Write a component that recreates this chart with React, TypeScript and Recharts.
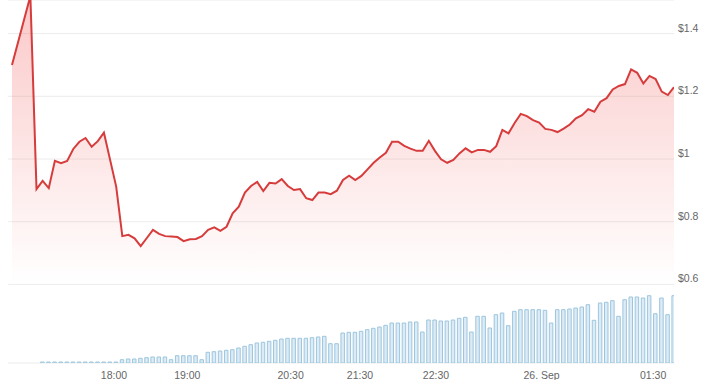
import { Area, Bar, CartesianGrid, ComposedChart, XAxis, YAxis } from 'recharts';

// one entry per 5-minute candle (ordinal axis, equally spaced)
const prices: (number | null)[] = [
  1.3, null, null, 1.52, 0.904, 0.93, 0.907, 0.994, 0.987, 0.994,
  1.032, 1.055, 1.067, 1.039, 1.057, 1.084, 0.998, 0.912, 0.754, 0.758,
  0.747, 0.722, 0.748, 0.774, 0.761, 0.754, 0.753, 0.751, 0.738, 0.744,
  0.745, 0.754, 0.774, 0.782, 0.771, 0.784, 0.827, 0.848, 0.893, 0.914,
  0.927, 0.898, 0.924, 0.922, 0.936, 0.914, 0.901, 0.904, 0.875, 0.869,
  0.893, 0.893, 0.888, 0.899, 0.933, 0.947, 0.933, 0.946, 0.967, 0.988,
  1.005, 1.02, 1.055, 1.055, 1.042, 1.033, 1.026, 1.026, 1.058, 1.026,
  0.999, 0.988, 0.997, 1.018, 1.034, 1.021, 1.029, 1.029, 1.023, 1.041,
  1.093, 1.082, 1.115, 1.144, 1.137, 1.124, 1.116, 1.096, 1.093, 1.086,
  1.097, 1.11, 1.13, 1.14, 1.159, 1.151, 1.183, 1.194, 1.222, 1.233,
  1.239, 1.286, 1.275, 1.241, 1.265, 1.255, 1.215, 1.204, 1.229,
];

const volumes: number[] = [
  0, 0, 0, 0, 0, 1, 1, 1, 1, 1,
  1, 1, 1, 1, 1, 1, 1, 1, 3.3, 4,
  4, 4.7, 5.3, 6, 6, 6, 3.3, 7.3, 7.3, 7.3,
  7.3, 3.3, 10.7, 11.3, 12, 12.7, 13.3, 15, 16.7, 18.3,
  20, 20.7, 21.7, 22.7, 24, 24.7, 24.7, 24.7, 24.7, 25.3,
  26, 26.7, 19.3, 19.3, 30, 30.7, 30.7, 31.7, 33.3, 34.7,
  36, 37.7, 40, 40, 40, 41, 41, 31, 43, 43,
  42, 42, 43, 44.7, 45.7, 31, 46.7, 46.7, 35, 48.3,
  50, 37.3, 51.7, 53.3, 53.3, 53.3, 53.3, 52.7, 40, 53.3,
  53.3, 54, 55, 56, 58.3, 42.7, 60, 60.7, 62.3, 46.7,
  63.3, 66, 66, 65, 67.3, 49.3, 65, 48.3, 67.3,
];

const priceTicks = [0.6, 0.8, 1, 1.2, 1.4];
// time labels sit between candles on the ordinal axis
const timeTickPos = [16.64, 28.6, 45.46, 56.77, 69.17, 86.4, 104.6];
const timeTickText = ['18:00', '19:00', '20:30', '21:30', '22:30', '26. Sep', '01:30'];

const data = prices.map((price, i) => ({ i, price, volume: volumes[i] }));

const font = '"Liberation Sans", Arial, sans-serif';

function PriceTick(props: any) {
  const v = props.payload.value;
  return (
    <text x={678} y={props.y - 2} fill="#666" fontSize={10.5} fontFamily={font} textAnchor="start">
      {'$' + String(v)}
    </text>
  );
}

function TimeTick(props: any) {
  const idx = timeTickPos.indexOf(props.payload.value);
  return (
    <text x={props.x} y={379} fill="#666" fontSize={10.5} fontFamily={font} textAnchor="middle">
      {timeTickText[idx]}
    </text>
  );
}

export default function App() {
  return (
    <div style={{ position: 'absolute', left: 0, top: 0, width: 720, height: 380, background: '#fff' }}>
      <ComposedChart width={720} height={380} data={data} margin={{ top: 0, right: 0, bottom: 0, left: 8 }}>
        <defs>
          <linearGradient id="priceFill" gradientUnits="userSpaceOnUse" x1="0" y1="0" x2="0" y2="285">
            <stop offset="0%" stopColor="#f24a4a" stopOpacity={0.3} />
            <stop offset="100%" stopColor="#f24a4a" stopOpacity={0} />
          </linearGradient>
        </defs>
        <CartesianGrid yAxisId="p" vertical={false} stroke="#ececec" />
        <XAxis
          type="number"
          dataKey="i"
          domain={[-0.65, 108]}
          ticks={timeTickPos}
          interval={0}
          tick={TimeTick}
          tickLine={false}
          axisLine={false}
          height={17}
          allowDataOverflow
        />
        <YAxis
          yAxisId="p"
          orientation="right"
          domain={[0.3493, 1.5072]}
          ticks={priceTicks}
          allowDataOverflow
          tick={PriceTick}
          tickLine={false}
          axisLine={false}
          width={46}
        />
        <YAxis yAxisId="v" hide domain={[0, 363]} allowDataOverflow />
        <Area
          yAxisId="p"
          type="linear"
          dataKey="price"
          stroke="#d63c3c"
          strokeWidth={2}
          fill="url(#priceFill)"
          fillOpacity={1}
          connectNulls
          dot={false}
          activeDot={false}
          isAnimationActive={false}
        />
        <Bar
          yAxisId="v"
          dataKey="volume"
          barSize={3.5}
          fill="#dcebf5"
          stroke="#9cc6de"
          strokeWidth={1}
          isAnimationActive={false}
        />
      </ComposedChart>
    </div>
  );
}
